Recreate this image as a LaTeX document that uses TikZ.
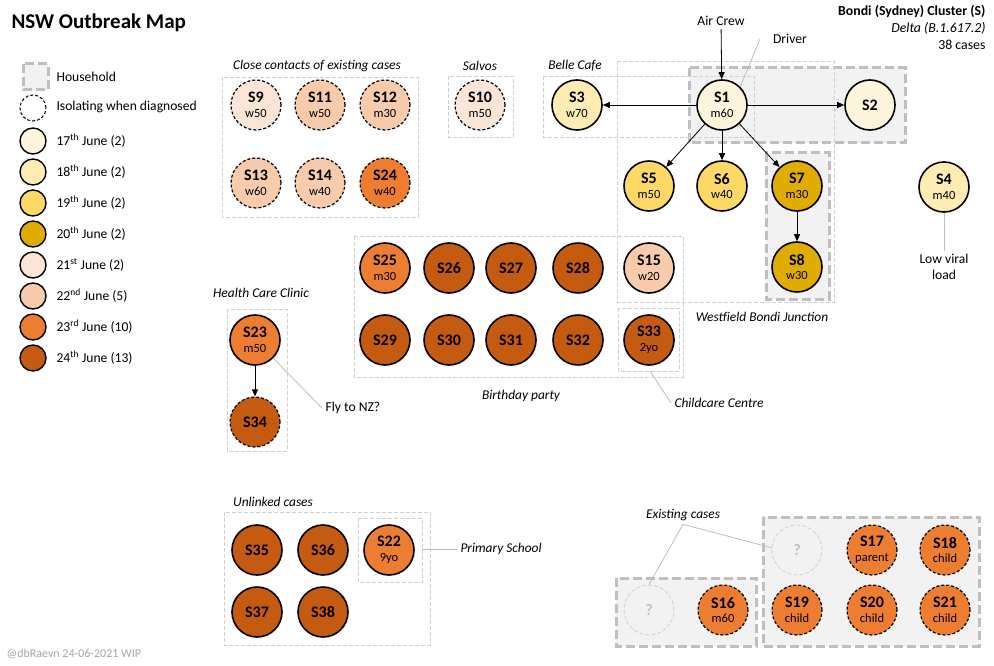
\documentclass[tikz,border=0pt]{standalone}
\usepackage{fontspec}
\setmainfont{Carlito}
\usetikzlibrary{arrows.meta}

\definecolor{day17}{HTML}{FFF4DC}
\definecolor{day18}{HTML}{FFECB3}
\definecolor{day19}{HTML}{FFD966}
\definecolor{day20}{HTML}{E0AC00}
\definecolor{day21}{HTML}{FBE5D6}
\definecolor{day22}{HTML}{F8CBAD}
\definecolor{day23}{HTML}{ED7D31}
\definecolor{day24}{HTML}{C55A11}
\definecolor{housegray}{HTML}{BFBFBF}
\definecolor{housefill}{HTML}{F2F2F2}
\definecolor{boxgray}{HTML}{D0D0D0}
\definecolor{markgray}{HTML}{A6A6A6}

\newcommand{\sub}[1]{\\[-1.5pt]{\fontsize{12.5}{12.5}\selectfont\mdseries #1}}

\begin{document}
\begin{tikzpicture}[x=1pt,y=-1pt,
	case/.style={circle,draw,line width=1.6pt,minimum size=50pt,inner sep=0pt,align=center,font=\fontsize{16}{16}\selectfont\bfseries},
	iso/.style={case,line width=1.2pt,dash pattern=on 3pt off 2pt},
	unknown/.style={circle,draw=boxgray,line width=0.8pt,dash pattern=on 4pt off 2pt,minimum size=50pt,text=housegray,font=\fontsize{16}{16}\selectfont\bfseries},
	key/.style={circle,draw,line width=1.4pt,minimum size=26pt,inner sep=0pt},
	house/.style={draw=housegray,fill=housefill,line width=3pt,dash pattern=on 9pt off 4pt},
	group/.style={draw=boxgray,line width=0.8pt,dash pattern=on 4pt off 2pt},
	leader/.style={draw=housegray,line width=0.8pt},
	spread/.style={-{Triangle[length=7pt,width=6pt]},line width=0.8pt},
	tag/.style={font=\fontsize{13.6}{16}\selectfont},
	place/.style={font=\fontsize{13.4}{16}\selectfont\itshape}]
	\useasboundingbox[fill=white] (0,0) rectangle (994,666);
	%Households
	\path[house] (689,68) rectangle (905,143);
	\path[house] (766,153) rectangle (829,299);
	\path[house] (616,578) rectangle (756,646);
	\path[house] (763,517) rectangle (979,646);
	%Places
	\path[group] (222,77) rectangle (418,217);
	\path[group] (448,76) rectangle (513,137);
	\path[group] (543,76) rectangle (754,137);
	\path[group] (617,61) rectangle (834,302);
	\path[group] (354,236) rectangle (683,377);
	\path[group] (618,308) rectangle (679,371);
	\path[group] (227,309) rectangle (287,451);
	\path[group] (224,512) rectangle (430,645);
	\path[group] (358,518) rectangle (422,582);
	\node[place] (close) at (317,66) {Close contacts of existing cases};
	\node[place] (salvos) at (480,66) {Salvos};
	\node[place] (belle) at (575,66) {Belle Cafe};
	\node[place] (westfield) at (762,317) {Westfield Bondi Junction};
	\node[place] (party) at (521,396) {Birthday party};
	\node[place,anchor=west] (childcare) at (671,403) {Childcare Centre};
	\node[place] (clinic) at (261,293) {Health Care Clinic};
	\node[place] (unlinked) at (273,502) {Unlinked cases};
	\node[place,anchor=west] (school) at (457,549) {Primary School};
	\node[place] (existing) at (683,515) {Existing cases};
	%Cases
	\node[case,fill=day17] (S1) at (722,105) {S1\sub{m60}};
	\node[case,fill=day17] (S2) at (870,105) {S2};
	\node[case,fill=day18] (S3) at (577,105) {S3\sub{w70}};
	\node[case,fill=day18] (S4) at (944,187) {S4\sub{m40}};
	\node[case,fill=day19] (S5) at (649,186) {S5\sub{m50}};
	\node[case,fill=day19] (S6) at (722,186) {S6\sub{w40}};
	\node[case,fill=day20] (S7) at (797,186) {S7\sub{m30}};
	\node[case,fill=day20] (S8) at (797,267) {S8\sub{w30}};
	\node[iso,fill=day21] (S9) at (256,105) {S9\sub{w50}};
	\node[iso,fill=day21] (S10) at (480,105) {S10\sub{m50}};
	\node[iso,fill=day22] (S11) at (320,105) {S11\sub{w50}};
	\node[iso,fill=day22] (S12) at (385,105) {S12\sub{m30}};
	\node[iso,fill=day22] (S13) at (256,183) {S13\sub{w60}};
	\node[iso,fill=day22] (S14) at (320,183) {S14\sub{w40}};
	\node[iso,fill=day23] (S24) at (385,183) {S24\sub{w40}};
	\node[case,fill=day22] (S15) at (649,268) {S15\sub{w20}};
	\node[case,fill=day23] (S25) at (385,268) {S25\sub{m30}};
	\node[case,fill=day24] (S26) at (449,268) {S26};
	\node[case,fill=day24] (S27) at (511,268) {S27};
	\node[case,fill=day24] (S28) at (578,268) {S28};
	\node[case,fill=day24] (S29) at (385,340) {S29};
	\node[case,fill=day24] (S30) at (449,340) {S30};
	\node[case,fill=day24] (S31) at (511,340) {S31};
	\node[case,fill=day24] (S32) at (578,340) {S32};
	\node[case,fill=day24] (S33) at (649,340) {S33\sub{2yo}};
	\node[case,fill=day23] (S23) at (255,340) {S23\sub{m50}};
	\node[iso,fill=day24] (S34) at (255,422) {S34};
	\node[case,fill=day24] (S35) at (257,550) {S35};
	\node[case,fill=day24] (S36) at (323,550) {S36};
	\node[case,fill=day23] (S22) at (389,550) {S22\sub{9yo}};
	\node[case,fill=day24] (S37) at (257,612) {S37};
	\node[case,fill=day24] (S38) at (323,612) {S38};
	\node[unknown] (q1) at (649,610) {?};
	\node[iso,fill=day23] (S16) at (723,610) {S16\sub{m60}};
	\node[unknown] (q2) at (797,550) {?};
	\node[iso,fill=day23] (S17) at (872,550) {S17\sub{parent}};
	\node[iso,fill=day23] (S18) at (945,550) {S18\sub{child}};
	\node[iso,fill=day23] (S19) at (797,610) {S19\sub{child}};
	\node[iso,fill=day23] (S20) at (872,610) {S20\sub{child}};
	\node[iso,fill=day23] (S21) at (945,610) {S21\sub{child}};
	%Spread
	\node[tag] (aircrew) at (721,21) {Air Crew};
	\node[tag] (driver) at (790,39) {Driver};
	\coordinate (driver-end) at (760,39);
	\draw[spread] (aircrew) -- (S1);
	\draw[spread] (S1) -- (S3);
	\draw[spread] (S1) -- (S2);
	\draw[spread] (S1) -- (S5);
	\draw[spread] (S1) -- (S6);
	\draw[spread] (S1) -- (S7);
	\draw[spread] (S7) -- (S8);
	\draw[spread] (S23) -- (S34);
	%Notes
	\node[tag,align=center] (lowviral) at (944,267) {Low viral\\load};
	\node[tag,anchor=west] (flynz) at (322,408) {Fly to NZ?};
	\coordinate (cc-end) at (650,371);
	\coordinate (ps-end) at (422,549);
	\path[leader] (driver-end) -- (S1.45);
	\path[leader] (S4) -- (lowviral);
	\path[leader] (S23.-45) -- (flynz.west);
	\path[leader] (cc-end) -- (childcare.west);
	\path[leader] (ps-end) -- (school.west);
	\path[leader] (q1.north) -- (existing.south) -- (q2.175);
	%Legend
	\node[font=\fontsize{21}{21}\selectfont\bfseries,anchor=west] (title) at (8,23) {NSW Outbreak Map};
	\node[align=right,anchor=north east,font=\fontsize{13.8}{17}\selectfont] (cluster) at (989,2)
		{\textbf{Bondi (Sydney) Cluster (S)}\\\textit{Delta (B.1.617.2)}\\38 cases};
	\path[house] (23,64) rectangle (48,90);
	\node[tag,anchor=west] (k-house) at (53,77) {Household};
	\node[key,line width=1pt,dash pattern=on 3pt off 2pt] (k-iso) at (33,108) {};
	\node[tag,anchor=west] (k-isotext) at (53,107) {Isolating when diagnosed};
	\foreach \clr/\lbl [count=\i from 0] in {day17/17\textsuperscript{th} June (2),day18/18\textsuperscript{th} June (2),day19/19\textsuperscript{th} June (2),day20/20\textsuperscript{th} June (2),day21/21\textsuperscript{st} June (2),day22/22\textsuperscript{nd} June (5),day23/23\textsuperscript{rd} June (10),day24/24\textsuperscript{th} June (13)}
	{
		\node[key,fill=\clr] (k-\i) at (33,141+31*\i) {};
		\node[tag,anchor=west] (k-text-\i) at (53,141+31*\i) {\lbl};
	}
	\node[anchor=west,text=markgray,font=\fontsize{12}{12}\selectfont] (mark) at (3,654) {@dbRaevn 24-06-2021 WIP};
\end{tikzpicture}
\end{document}
